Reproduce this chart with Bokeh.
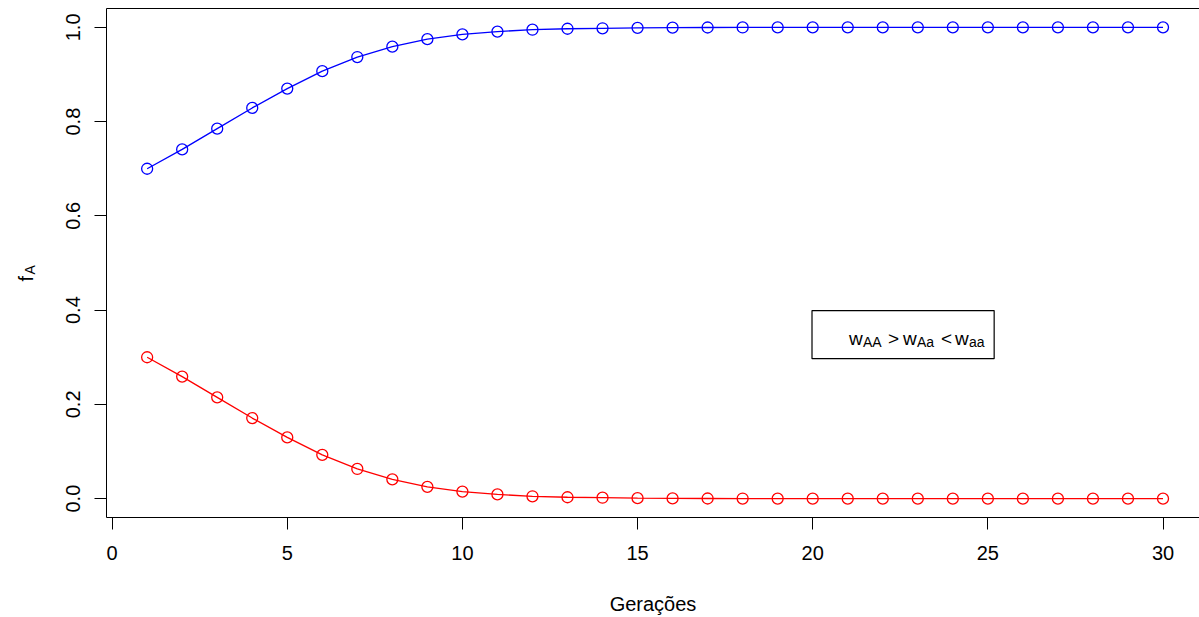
from bokeh.plotting import figure
from bokeh.layouts import row
from bokeh.models import Range1d, FixedTicker, LinearAxis, Label, BoxAnnotation
from bokeh.embed import file_html
from bokeh.resources import INLINE

# Allele frequency of A over generations (heterozygote disadvantage)
geracoes = list(range(1, 31))
f_A_alto = [0.700, 0.741, 0.785, 0.829, 0.870, 0.907, 0.937, 0.959, 0.975, 0.985,
            0.991, 0.995, 0.997, 0.998, 0.999, 0.9995, 0.9997, 0.9998, 0.9999, 1.000,
            1.000, 1.000, 1.000, 1.000, 1.000, 1.000, 1.000, 1.000, 1.000, 1.000]
f_A_baixo = [0.300, 0.259, 0.215, 0.171, 0.130, 0.093, 0.063, 0.041, 0.025, 0.015,
             0.009, 0.005, 0.003, 0.002, 0.001, 0.0005, 0.0003, 0.0002, 0.0001, 0.000,
             0.000, 0.000, 0.000, 0.000, 0.000, 0.000, 0.000, 0.000, 0.000, 0.000]

x_ticks = [0, 5, 10, 15, 20, 25, 30]
y_ticks = [0.0, 0.2, 0.4, 0.6, 0.8, 1.0]
y_tick_labels = {0.0: "0.0", 0.2: "0.2", 0.4: "0.4", 0.6: "0.6", 0.8: "0.8", 1.0: "1.0"}

FONT = "Liberation Sans"
W, H = 1199, 617
LEFT_STRIP = 60  # narrow panel that carries the y-axis title

# R-style 4% padding around the data range; the right side runs past the page edge
x_lo = 1 - 0.04 * 29
y_lo, y_hi = 0 - 0.04, 1 + 0.04
frame_w = 1093
px_per_unit = 35.03
x_hi = x_lo + frame_w / px_per_unit

p = figure(width=W - LEFT_STRIP, height=H, output_backend="svg", toolbar_location=None,
           x_range=Range1d(x_lo, x_hi), y_range=Range1d(y_lo, y_hi),
           x_axis_location=None, y_axis_location=None,
           min_border_left=106 - LEFT_STRIP, min_border_right=0,
           min_border_top=8, min_border_bottom=100)
p.frame_width = frame_w
p.frame_height = 509
p.grid.visible = False
p.outline_line_color = None
p.background_fill_color = "white"
p.border_fill_color = "white"

def style_axis(ax):
    ax.axis_line_color = "black"
    ax.axis_line_width = 1
    ax.major_tick_line_color = "black"
    ax.major_tick_out = 12
    ax.major_tick_in = 0
    ax.minor_tick_line_color = None
    ax.major_label_text_font = FONT
    ax.major_label_text_font_size = "20px"
    ax.major_label_text_color = "black"

xa = LinearAxis(ticker=FixedTicker(ticks=x_ticks))
style_axis(xa)
xa.major_label_standoff = 16
xa.axis_label = "Gerações"
xa.axis_label_text_font = FONT
xa.axis_label_text_font_size = "20px"
xa.axis_label_text_font_style = "normal"
xa.axis_label_text_color = "black"
xa.axis_label_standoff = 30
p.add_layout(xa, "below")

ya = LinearAxis(ticker=FixedTicker(ticks=y_ticks))
style_axis(ya)
ya.major_label_overrides = y_tick_labels
ya.major_label_orientation = "vertical"
ya.major_label_standoff = 14
p.add_layout(ya, "left")

# top edge of the plot box
top = LinearAxis(ticker=FixedTicker(ticks=[]))
top.axis_line_color = "black"
top.major_tick_out = 0
top.major_tick_in = 0
top.minor_tick_line_color = None
top.major_label_standoff = 0
top.major_label_text_font_size = "0px"
p.add_layout(top, "above")

for ys, col in ((f_A_alto, "#0000FF"), (f_A_baixo, "#FF0000")):
    p.line(geracoes, ys, line_color=col, line_width=1.3)
    p.scatter(geracoes, ys, marker="circle", size=11, fill_color=None,
              line_color=col, line_width=1.3)

# legend box
box_left, box_right, box_top, box_bottom = 19.98, 25.18, 0.399, 0.297
p.add_layout(BoxAnnotation(left=box_left, right=box_right, top=box_top, bottom=box_bottom,
                           fill_color=None, fill_alpha=0, line_color="black",
                           line_alpha=1.0, line_width=1.2))

y_main, y_sub = 0.3390, 0.3317
pieces = [("w", 37, "main"), ("AA", 51, "sub"), (">", 76, "main"),
          ("w", 91, "main"), ("Aa", 105, "sub"), ("<", 129, "main"),
          ("w", 143, "main"), ("aa", 157, "sub")]
for txt, off, kind in pieces:
    p.add_layout(Label(x=box_left, y=y_main if kind == "main" else y_sub, x_offset=off,
                       text=txt, text_font=FONT, text_color="black",
                       text_font_size="19px" if kind == "main" else "14px",
                       text_baseline="alphabetic", text_align="left"))

# y-axis title "f" with subscript "A", drawn in its own strip (pixel coordinates, y up)
t = figure(width=LEFT_STRIP, height=H, output_backend="svg", toolbar_location=None,
           x_range=Range1d(0, LEFT_STRIP), y_range=Range1d(0, H),
           x_axis_location=None, y_axis_location=None,
           min_border_left=0, min_border_right=0, min_border_top=0, min_border_bottom=0)
t.frame_width = LEFT_STRIP
t.frame_height = H
t.grid.visible = False
t.outline_line_color = None
t.background_fill_color = "white"
t.border_fill_color = "white"
t.add_layout(Label(x=25, y=344, text="f", angle=90, angle_units="deg",
                   text_font=FONT, text_font_size="20px", text_color="black",
                   text_baseline="alphabetic", text_align="left"))
t.add_layout(Label(x=29, y=351, text="A", angle=90, angle_units="deg",
                   text_font=FONT, text_font_size="14px", text_color="black",
                   text_baseline="alphabetic", text_align="left"))

layout = row(t, p, spacing=0)
open("out.html", "w").write(file_html(layout, INLINE))
